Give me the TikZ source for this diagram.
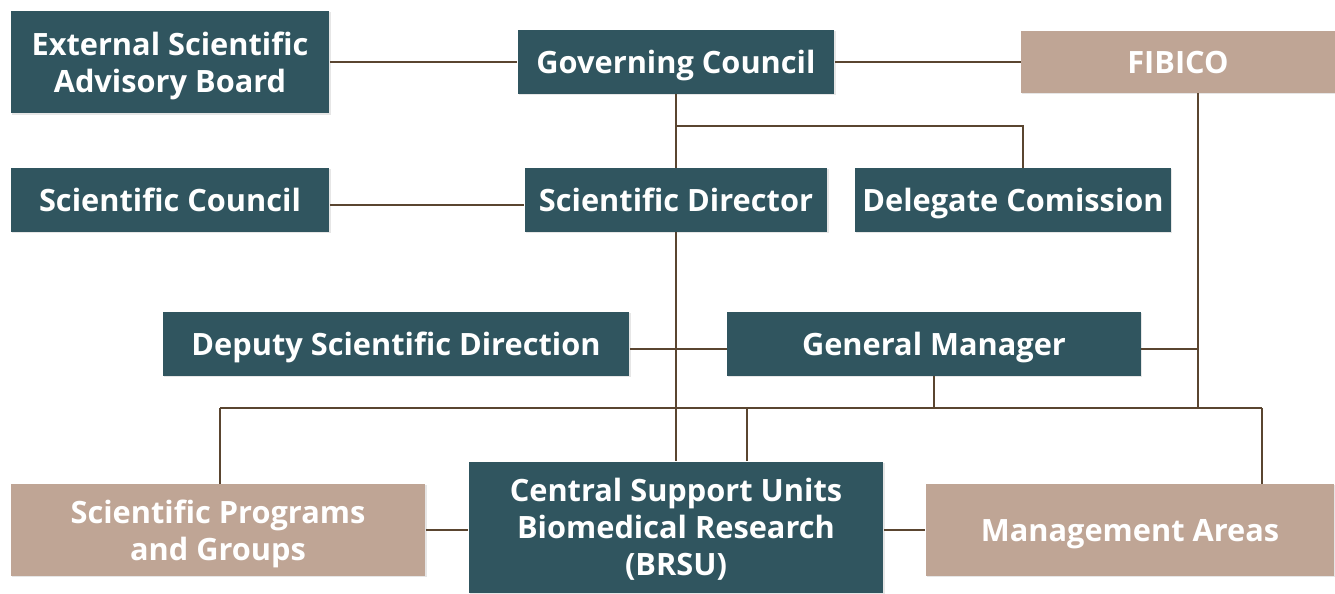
\documentclass[tikz,border=0pt]{standalone}
\usepackage{fontspec}
\setmainfont{Open Sans}
\usetikzlibrary{shadows}

\definecolor{teal}{HTML}{30555F}
\definecolor{tan}{HTML}{BFA595}
\definecolor{wire}{HTML}{5A4530}

\begin{document}
\begin{tikzpicture}[x=0.02cm, y=-0.02cm,
  box/.style={fill=teal, text=white, font=\bfseries\fontsize{17.5}{21}\selectfont,
    align=center, inner sep=0pt, text depth=0pt,
    drop shadow={opacity=0.2, shadow xshift=0.6pt, shadow yshift=-0.8pt}},
  tanbox/.style={box, fill=tan},
  link/.style={draw=wire, line width=0.9pt}]
  \useasboundingbox (0,0) rectangle (1335,593);

  % top row
  \node[box, minimum width=6.38cm, minimum height=2.06cm] (esab) at (170,62) {External Scientific\\Advisory Board};
  \node[box, minimum width=6.34cm, minimum height=1.28cm] (gc) at (676,62) {Governing Council};
  \node[tanbox, minimum width=6.28cm, minimum height=1.24cm] (fibico) at (1178,62) {FIBICO};

  % second row
  \node[box, minimum width=6.38cm, minimum height=1.28cm] (sc) at (170,200) {Scientific Council};
  \node[box, minimum width=6.06cm, minimum height=1.28cm] (sd) at (676,200) {Scientific Director};
  \node[box, minimum width=6.32cm, minimum height=1.28cm] (dc) at (1013,200) {Delegate Comission};

  % third row
  \node[box, minimum width=9.34cm, minimum height=1.28cm] (dsd) at (396,344) {Deputy Scientific Direction};
  \node[box, minimum width=8.28cm, minimum height=1.28cm] (gm) at (934,344) {General Manager};

  % bottom row
  \node[tanbox, minimum width=8.30cm, minimum height=1.84cm] (spg) at (218,530) {Scientific Programs\\and Groups};
  \node[box, minimum width=8.30cm, minimum height=2.62cm] (brsu) at (676,527) {Central Support Units\\Biomedical Research\\(BRSU)};
  \node[tanbox, minimum width=8.18cm, minimum height=1.84cm] (ma) at (1130,530) {Management Areas};

  % junctions
  \coordinate (j1) at (676,126);
  \coordinate (j2) at (1023,168);
  \coordinate (j3) at (1198,408);
  \coordinate (j4) at (220,408);
  \coordinate (j5) at (1262,408);
  \coordinate (j6) at (747,408);

  \draw[link] (esab) -- (gc);
  \draw[link] (gc) -- (fibico);
  \draw[link] (gc.south) -- (sd.north);
  \draw[link] (j1) -| (j2);
  \draw[link] (sc.east |- 0,205) -- (sd.west |- 0,205);
  \draw[link] (sd.south) -- (brsu.north);
  \draw[link] (dsd.east |- 0,349) -- (gm.west |- 0,349);
  \draw[link] (fibico.south -| j3) -- (j3);
  \draw[link] (gm.east |- 0,349) -- (j3 |- 0,349);
  \draw[link] (gm.south) -- (gm.south |- j3);
  \draw[link] (j4) -- (j5);
  \draw[link] (j4) -- (j4 |- spg.north);
  \draw[link] (j5) -- (j5 |- ma.north);
  \draw[link] (j6) -- (j6 |- brsu.north);
  \draw[link] (spg.east) -- (brsu.west |- spg.east);
  \draw[link] (brsu.east |- ma.west) -- (ma.west);
\end{tikzpicture}
\end{document}
